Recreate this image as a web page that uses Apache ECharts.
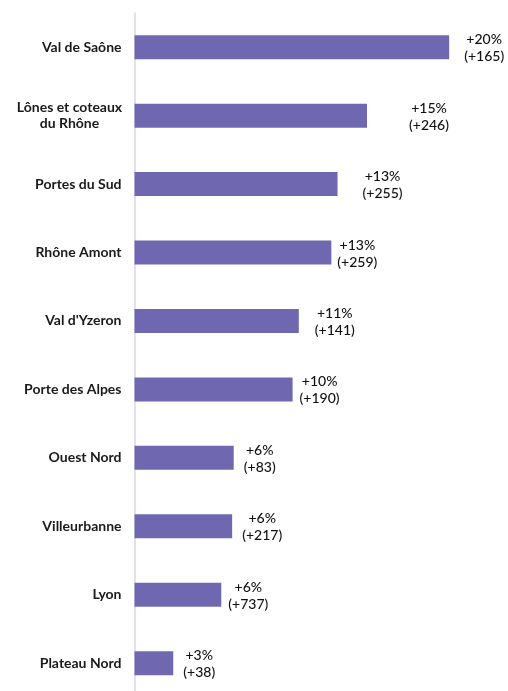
<!DOCTYPE html>
<html>
<head>
<meta charset="utf-8">
<script src="https://cdn.jsdelivr.net/npm/echarts@6/dist/echarts.min.js"></script>
<style>
html,body{margin:0;padding:0;background:#fff;}
#chart{width:508px;height:691px;}
</style>
</head>
<body>
<div id="chart"></div>
<script>
const categories = ["Val de Saône", "Lônes et coteaux\ndu Rhône", "Portes du Sud", "Rhône Amont", "Val d'Yzeron", "Porte des Alpes", "Ouest Nord", "Villeurbanne", "Lyon", "Plateau Nord"];
const growthPct = [20.3, 15.0, 13.1, 12.7, 10.6, 10.2, 6.4, 6.3, 5.6, 2.5];
const pctLabels = ["+20%", "+15%", "+13%", "+13%", "+11%", "+10%", "+6%", "+6%", "+6%", "+3%"];
const countLabels = ["(+165)", "(+246)", "(+255)", "(+259)", "(+141)", "(+190)", "(+83)", "(+217)", "(+737)", "(+38)"];

// extra horizontal nudge of each value label (styling only)
const labelNudge = [9, 36, 19, 0, 10, 1, 0, 4, 1, 0];

const chart = echarts.init(document.getElementById('chart'));
const seriesData = growthPct.map((v, i) => ({
  value: v,
  label: { offset: [labelNudge[i], 1] }
}));

chart.setOption({
  animation: false,
  grid: { left: 134.5, top: 13, height: 684.4, width: 341, outerBoundsMode: 'none', containLabel: false },
  xAxis: {
    type: 'value', min: 0, max: 22,
    show: false
  },
  yAxis: {
    type: 'category',
    inverse: true,
    data: categories,
    axisLine: { show: true, lineStyle: { color: '#d9d6ee', width: 1.5 } },
    axisTick: { show: false },
    axisLabel: {
      margin: 13,
      fontFamily: 'Lato',
      fontWeight: 'bold',
      fontSize: 14,
      color: '#1a1a1a',
      lineHeight: 16,
      formatter: function (v) {
        if (v.indexOf('\n') >= 0) {
          return v.split('\n').map(s => '{c|' + s + '}').join('\n');
        }
        return v;
      },
      rich: {
        c: { width: 104, align: 'center', fontFamily: 'Lato', fontWeight: 'bold', fontSize: 14, color: '#1a1a1a', lineHeight: 16 }
      }
    }
  },
  series: [{
    type: 'bar',
    data: seriesData,
    barWidth: 24,
    itemStyle: { color: '#6f68b0' },
    label: {
      show: true,
      position: 'right',
      distance: 26,
      fontFamily: 'Lato',
      fontSize: 14,
      fontWeight: 500,
      color: '#111111',
      lineHeight: 17,
      align: 'center',
      formatter: function (p) {
        return pctLabels[p.dataIndex] + '\n' + countLabels[p.dataIndex];
      }
    }
  }]
});
</script>
</body>
</html>
